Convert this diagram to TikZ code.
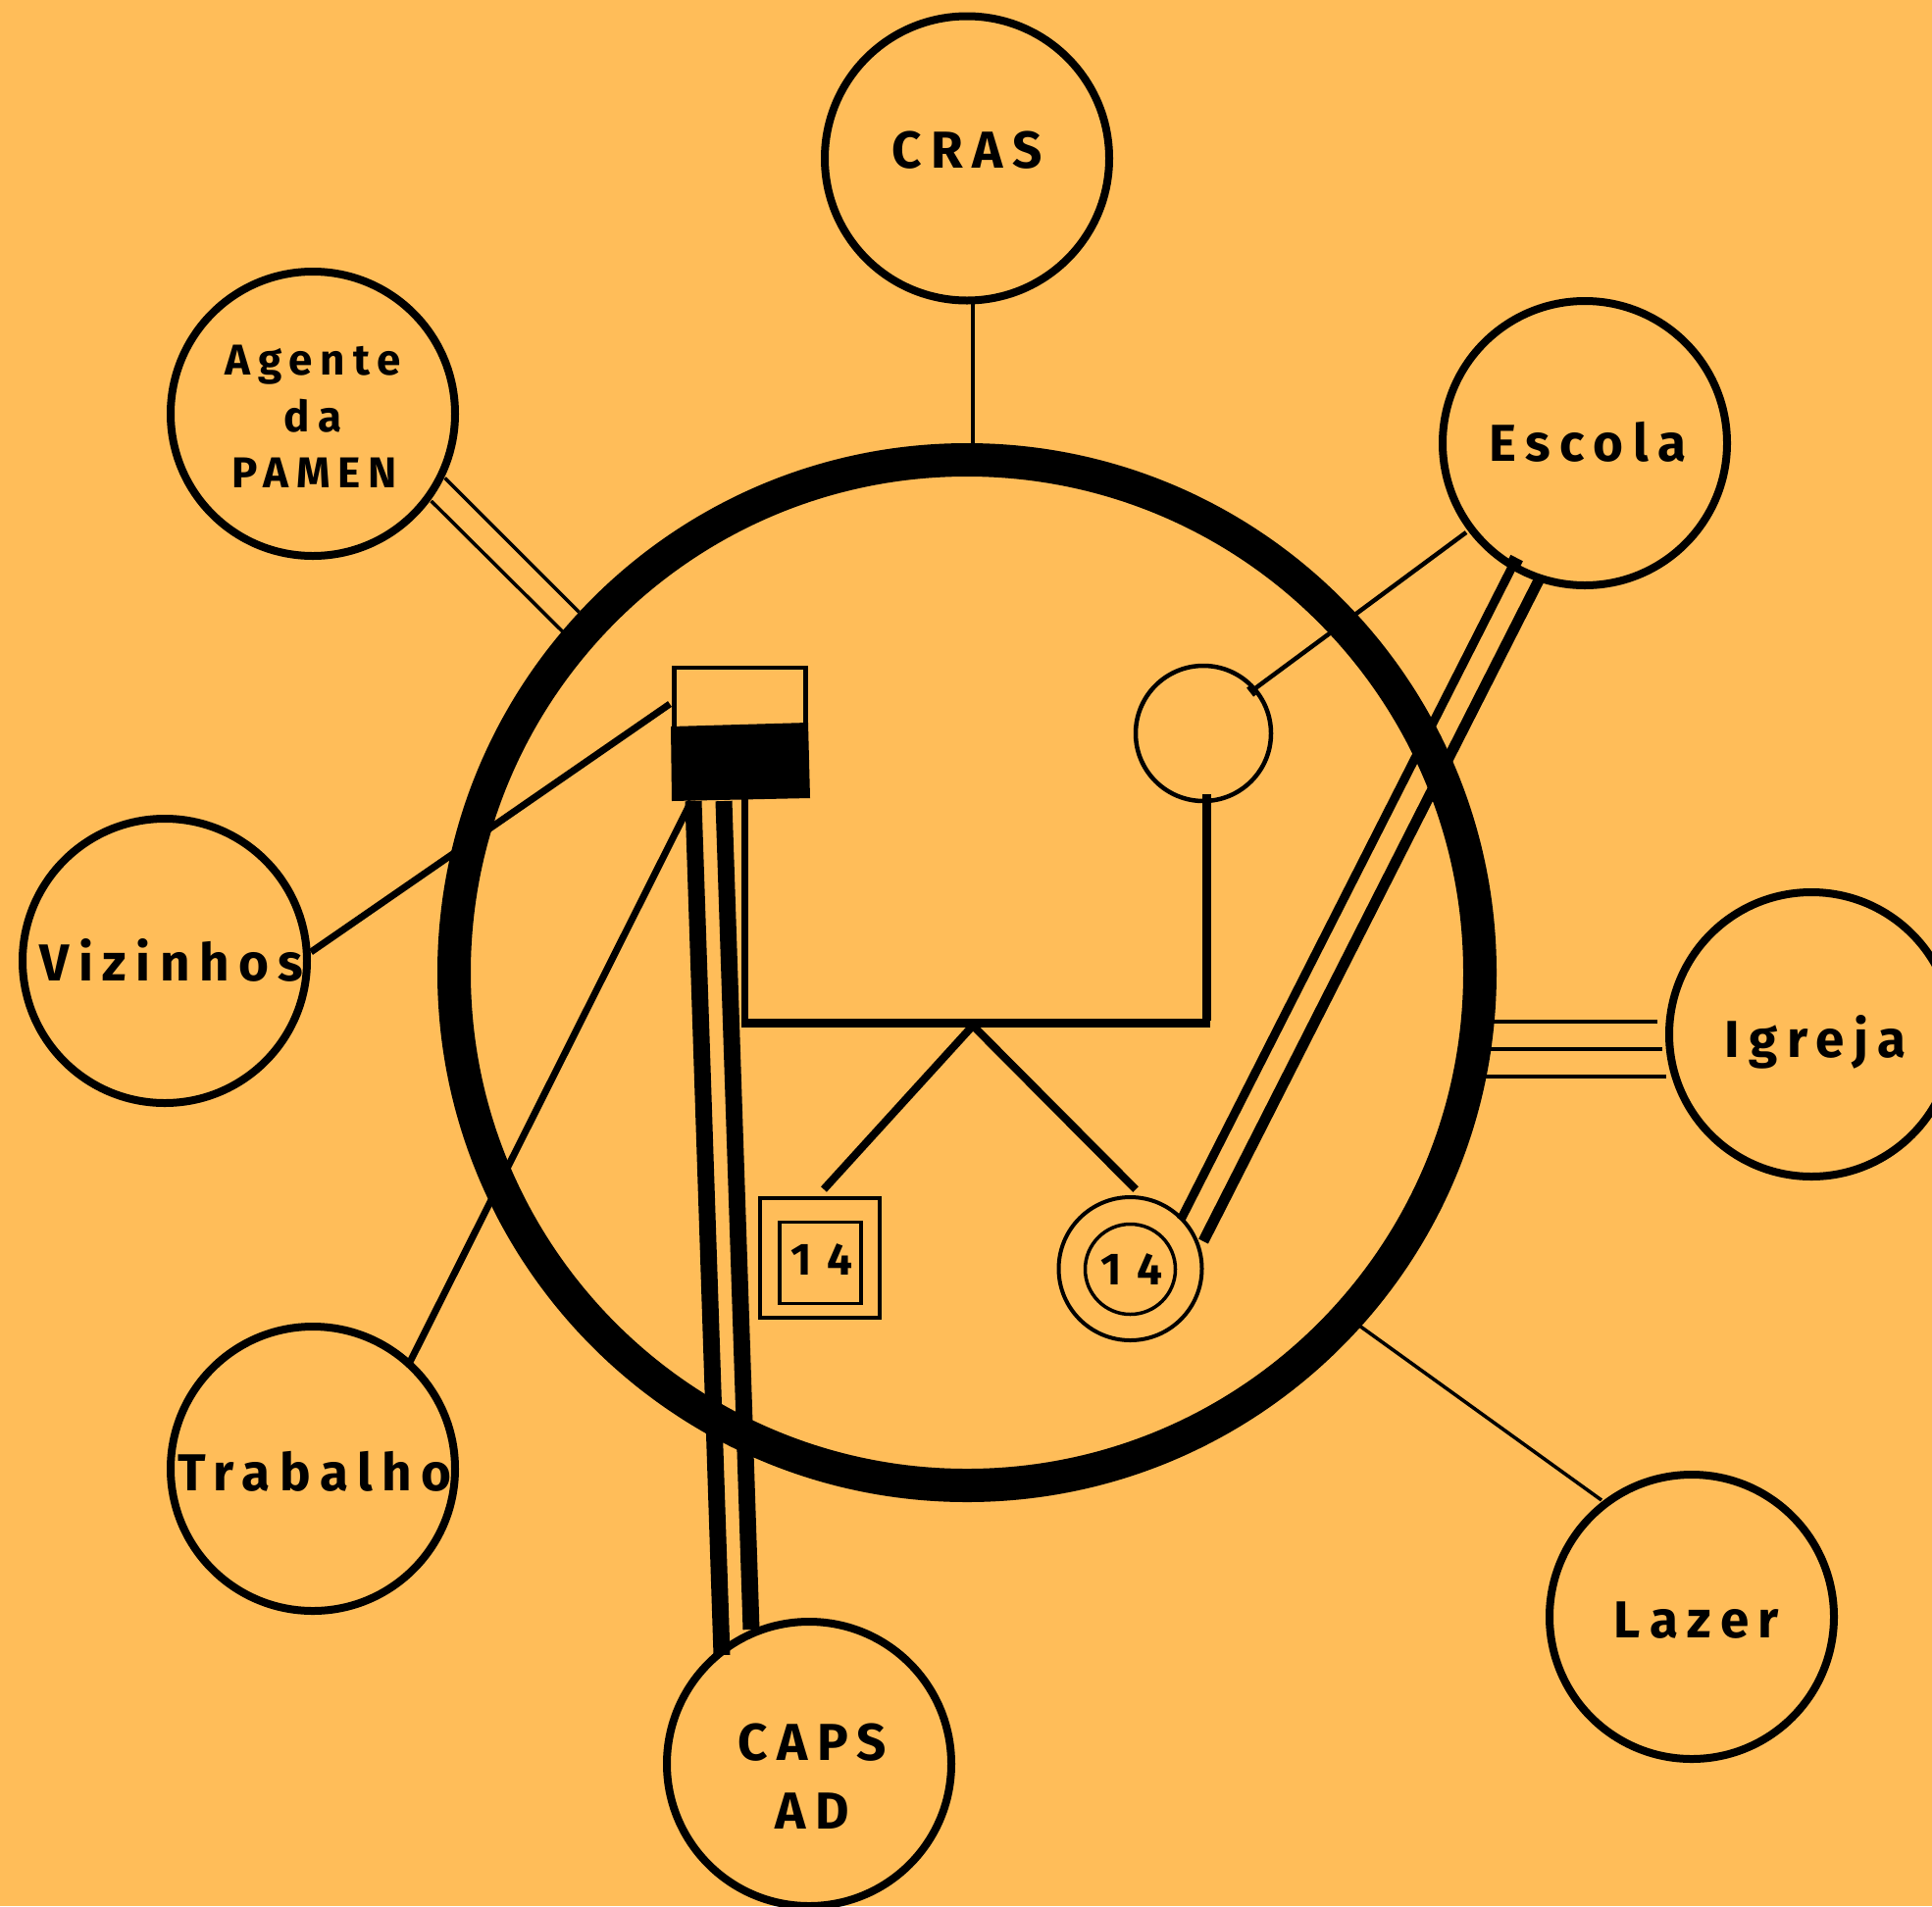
\documentclass[tikz,border=0pt]{standalone}
\usepackage{fontspec}
\newfontfamily\labfont{Fira Sans}[LetterSpace=18]
\newfontfamily\numfont{Fira Sans}[LetterSpace=32]
\definecolor{bg}{HTML}{FFBD59}
\begin{document}
\begin{tikzpicture}[x=1pt,y=-1pt,
  sat/.style={circle,draw,line width=8pt,minimum size=290pt,inner sep=0pt},
  lab/.style={inner sep=0pt,anchor=base,font=\labfont\bfseries\fontsize{53}{60}\selectfont},
  smalllab/.style={inner sep=0pt,anchor=base,font=\labfont\bfseries\fontsize{44}{50}\selectfont},
  numlab/.style={inner sep=0pt,anchor=base,font=\numfont\bfseries\fontsize{46}{50}\selectfont},
  thinline/.style={line width=3.5pt},
  midline/.style={line width=7pt},
  heavyline/.style={line width=17pt}]
\fill[bg] (0,0) rectangle (1970,1944);
\useasboundingbox (0,0) rectangle (1970,1944);

% big household circle
\node[circle,draw,line width=34pt,minimum size=1046pt,inner sep=0pt] (home) at (986,992) {};

% satellite circles
\node[sat] (cras) at (986,161.5) {};
\node[sat] (agente) at (319,422) {};
\node[sat] (escola) at (1616,452) {};
\node[sat] (viz) at (168,980) {};
\node[sat] (igreja) at (1847,1055) {};
\node[sat] (trab) at (319,1498) {};
\node[sat] (caps) at (825,1799) {};
\node[sat] (lazer) at (1725,1649) {};

% labels
\node[lab] (tcras) at (986,171) {CRAS};
\node[smalllab] (tag1) at (319,382) {Agente};
\node[smalllab] (tag2) at (319,440) {da};
\node[smalllab] (tag3) at (321,497) {PAMEN};
\node[lab] (tesc) at (1619,470) {Escola};
\node[lab] (tviz) at (175,1000) {Vizinhos};
\node[lab] (tigr) at (1851,1078) {Igreja};
\node[lab] (ttrab) at (321,1520) {Trabalho};
\node[lab] (tlaz) at (1730,1670) {Lazer};
\node[lab] (tcaps1) at (828,1795) {CAPS};
\node[lab] (tcaps2) at (828,1865) {AD};

% genogram: father (square, lower part filled)
\node[draw,line width=4.5pt,minimum width=134pt,minimum height=120pt,inner sep=0pt] (pai) at (754.5,741) {};
\fill (684,741) -- (824,737) -- (826,814) -- (685,817) -- cycle;
% mother
\node[circle,draw,line width=4.5pt,minimum size=138pt,inner sep=0pt] (mae) at (1227,748) {};
% marriage line
\coordinate (mC) at (992,1046);
\draw[line width=7pt] (759,815) -- (759,1047);
\draw[line width=9pt] (1230,810) -- (1230,1041);
\draw[line width=9pt] (756,1043) -- (1234,1043);
% children
\node[draw,line width=4pt,minimum size=122pt,inner sep=0pt] (filho) at (835.7,1283) {};
\node[draw,line width=3.5pt,minimum size=83pt,inner sep=0pt] (filhoin) at (836.5,1288) {};
\node[numlab] (tfilho) at (838,1300) {14};
\node[circle,draw,line width=4pt,minimum size=146pt,inner sep=0pt] (filha) at (1152.5,1294) {};
\node[circle,draw,line width=3.5pt,minimum size=92pt,inner sep=0pt] (filhain) at (1152.5,1294.5) {};
\node[numlab] (tfilha) at (1154,1310) {14};
\coordinate (cL) at (840,1213);
\coordinate (cR) at (1158,1213);
\draw[line width=8pt] (cL) -- (mC) -- (cR);

% connectors
\draw[thinline] (992,310) -- (992,456);
\draw[thinline] (453.6,487.5) -- (590.5,624.4);
\draw[thinline] (439.7,511) -- (574,644.5);
\draw[midline] (317,971) -- (683,718);
\draw[midline] (418.4,1388.3) -- (705,817);
\draw[heavyline] (707,817) -- (736,1688);
\draw[heavyline] (738,817) -- (766,1662);
\draw[line width=4.5pt] (1495,543) -- (1276,705);
\draw[line width=3.5pt] (1279.5,709.5) -- (1272.5,700.5);
\draw[line width=9pt] (1545,572) -- (1204,1244);
\draw[line width=6pt] (1539,568.5) -- (1551.5,575);
\draw[line width=11pt] (1571,588) -- (1227,1266);
\draw[line width=4pt] (1521,1042) -- (1690,1042);
\draw[line width=4pt] (1518,1070) -- (1695,1070);
\draw[line width=4pt] (1513,1098) -- (1699,1098);
\draw[thinline] (1386,1352) -- (1633,1530);
\end{tikzpicture}
\end{document}
